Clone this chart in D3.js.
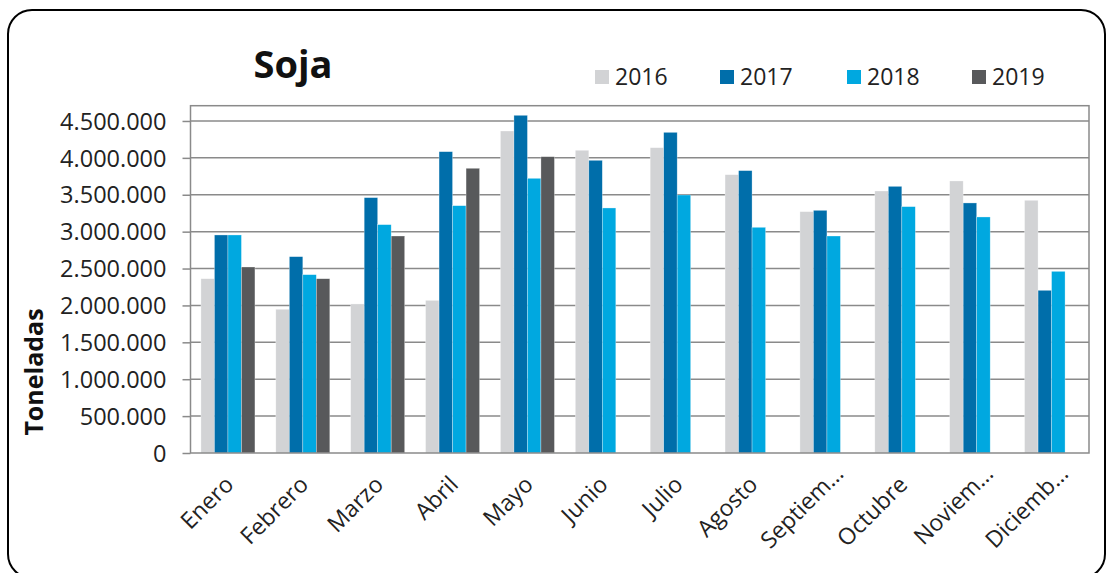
<!DOCTYPE html>
<html><head><meta charset="utf-8">
<script src="https://cdnjs.cloudflare.com/ajax/libs/d3/7.8.5/d3.min.js"></script>
<style>html,body{margin:0;padding:0;background:#fff;}svg{display:block;}</style>
</head><body><svg id="c" width="1112" height="573"></svg>
<script>
const title = "Soja";
const yTitle = "Toneladas";
const months = ["Enero","Febrero","Marzo","Abril","Mayo","Junio","Julio","Agosto","Septiem…","Octubre","Noviem…","Diciemb…"];
const years = ["2016","2017","2018","2019"];
const colors = ["#D2D3D5","#006EAA","#00A8E0","#58595B"];
const v2016 = [2362000,1948000,2020000,2069000,4364000,4103000,4138000,3772000,3271000,3551000,3687000,3425000];
const v2017 = [2955000,2661000,3461000,4084000,4577000,3967000,4346000,3827000,3289000,3614000,3389000,2205000];
const v2018 = [2955000,2417000,3095000,3352000,3723000,3321000,3497000,3059000,2941000,3339000,3199000,2462000];
const v2019 = [2521000,2362000,2941000,3859000,4016000,null,null,null,null,null,null,null];
const yTicks = [0,500000,1000000,1500000,2000000,2500000,3000000,3500000,4000000,4500000];
const series = [v2016,v2017,v2018,v2019];

const svg = d3.select("#c");
const FONT = "'Open Sans', sans-serif";
const L = 190.5, R = 1089, T = 105.7, B = 453;

// outer rounded border
svg.append("rect").attr("x",8).attr("y",10).attr("width",1097).attr("height",568)
  .attr("rx",24).attr("fill","#fff").attr("stroke","#000").attr("stroke-width",2);

const x = d3.scaleBand().domain(months).range([L,R]).paddingInner(0).paddingOuter(0);
const xs = d3.scaleBand().domain(years).range([0,54]);
const y = d3.scaleLinear().domain([0,4707000]).range([B,T]);

// y axis ticks and labels
const yAxis = d3.axisLeft(y).tickValues(yTicks).tickSize(8).tickPadding(16)
  .tickFormat(d => d3.format(",")(d).replace(/,/g,"."));
const gy = svg.append("g").attr("transform",`translate(${L},0)`).call(yAxis);
gy.select(".domain").remove();
gy.selectAll(".tick line").attr("stroke","#8a8a8a").attr("stroke-width",1.5);
gy.selectAll(".tick text").attr("font-family",FONT).attr("font-size",23.5).attr("fill","#222").attr("dy","0.35em");
// gridlines
svg.append("g").selectAll("line").data(yTicks.filter(d=>d>0)).join("line")
  .attr("x1",L).attr("x2",R).attr("y1",d=>y(d)).attr("y2",d=>y(d))
  .attr("stroke","#8a8a8a").attr("stroke-width",1.5);

// bars
const g = svg.append("g");
series.forEach((s,i)=>{
  g.append("g").selectAll("rect").data(months.map((m,j)=>({m,v:s[j]})).filter(d=>d.v!=null)).join("rect")
    .attr("x",d=>x(d.m)+(x.bandwidth()-54)/2+xs(years[i]))
    .attr("width",xs.bandwidth())
    .attr("y",d=>y(d.v)).attr("height",d=>B-y(d.v))
    .attr("fill",colors[i]).attr("stroke","rgba(255,255,255,0.5)").attr("stroke-width",0.6);
});

// plot border
svg.append("rect").attr("x",L).attr("y",T).attr("width",R-L).attr("height",B-T)
  .attr("fill","none").attr("stroke","#8a8a8a").attr("stroke-width",1.5);

// x labels
const xAxis = d3.axisBottom(x).tickSize(0).tickPadding(0);
const gx = svg.append("g").attr("transform",`translate(0,${B})`).call(xAxis);
gx.select(".domain").remove();
gx.selectAll(".tick text").attr("font-family",FONT).attr("font-size",23).attr("fill","#222")
  .attr("text-anchor","end").attr("dy",0)
  .attr("transform",d => d.endsWith("…") ? "translate(18,22) rotate(-45)" : "translate(7,33) rotate(-45)");

// title
svg.append("text").attr("x",293).attr("y",78).attr("text-anchor","middle")
  .attr("font-family",FONT).attr("font-weight","bold").attr("font-size",38).attr("fill","#111").text(title);

// y title
svg.append("text").attr("transform","translate(43,372) rotate(-90)").attr("text-anchor","middle")
  .attr("font-family",FONT).attr("font-weight","bold").attr("font-size",25).attr("fill","#111").text(yTitle);

// legend
const legX = [595,720,847,972];
const lg = svg.append("g");
years.forEach((yr,i)=>{
  lg.append("rect").attr("x",legX[i]).attr("y",70).attr("width",14).attr("height",14).attr("fill",colors[i]);
  lg.append("text").attr("x",legX[i]+20).attr("y",84.5).attr("font-family",FONT).attr("font-size",23)
    .attr("fill","#222").text(yr);
});
</script></body></html>
